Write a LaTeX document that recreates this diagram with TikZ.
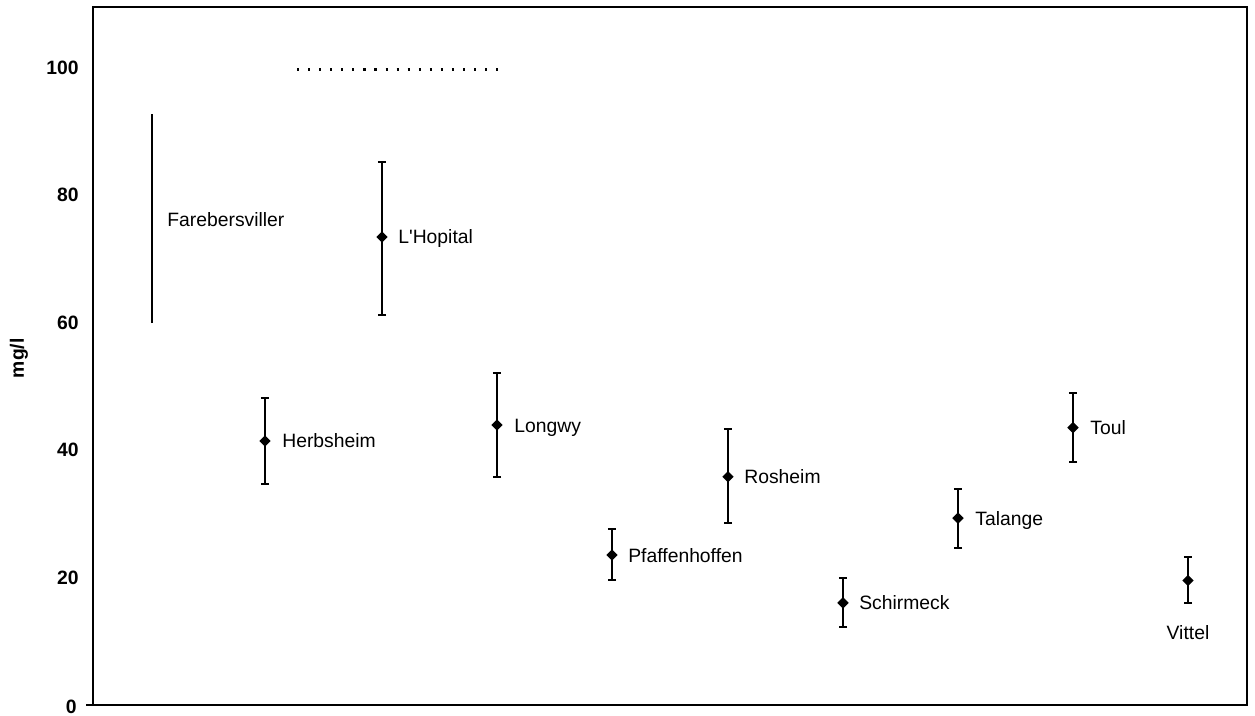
\documentclass[tikz,border=0pt]{standalone}
\usepackage{fontspec}
\setmainfont{Liberation Sans}
\usetikzlibrary{arrows.meta, shapes.geometric}

\begin{document}
\begin{tikzpicture}[x=0.02cm, y=0.1275cm,
        frame/.style={line width=1.2pt},
        errbar/.style={line width=0.7pt, {Bar[width=4.6pt, line width=1.1pt]}-{Bar[width=4.6pt, line width=1.1pt]}},
        dmark/.style={diamond, fill=black, inner sep=0pt, minimum size=6.6pt},
        site/.style={anchor=west, inner sep=0pt, text height=7.9pt, text depth=0pt, font=\fontsize{11}{13}\selectfont},
        tick/.style={anchor=east, inner sep=0pt, text height=7.9pt, text depth=0pt, font=\bfseries\fontsize{11}{13}\selectfont}]
        \useasboundingbox (0, -1.725) rectangle (1255, 110.59);
        % Frame
        \draw [frame] (93, 0) rectangle (1247, 109.5);
        \draw [frame] (86, 0) -- (93, 0);
        \draw [line width=1.3pt, dash pattern=on 1.2pt off 5.1pt] (297, 99.7) -- (498, 99.7);
        % Axis labels
        \node [tick] (t0) at (77, -0.2) {0};
        \node [tick] (t20) at (79, 20) {20};
        \node [tick] (t40) at (79, 40) {40};
        \node [tick] (t60) at (79, 60) {60};
        \node [tick] (t80) at (79, 80) {80};
        \node [tick] (t100) at (79, 100) {100};
        \node [tick, anchor=center, rotate=90] (ylab) at (17, 54.4) {mg/l};
        % Bars
        \draw [line width=1.1pt] (152, 59.9) -- (152, 92.7);
        \draw [errbar] (265, 34.5) -- (265, 48.3);
        \draw [errbar] (382, 61.0) -- (382, 85.3);
        \draw [errbar] (497, 35.6) -- (497, 52.2);
        \draw [errbar] (612, 19.5) -- (612, 27.8);
        \draw [errbar] (728, 28.4) -- (728, 43.5);
        \draw [errbar] (843, 12.1) -- (843, 20.1);
        \draw [errbar] (958, 24.5) -- (958, 34.0);
        \draw [errbar] (1073, 38.0) -- (1073, 49.1);
        \draw [errbar] (1188, 15.8) -- (1188, 23.4);
        % Means
        \node [dmark] (herb) at (265, 41.4) {};
        \node [dmark] (lhop) at (382, 73.4) {};
        \node [dmark] (long) at (497, 43.9) {};
        \node [dmark] (pfaf) at (612, 23.5) {};
        \node [dmark] (rosh) at (728, 35.8) {};
        \node [dmark] (schi) at (843, 16.0) {};
        \node [dmark] (tala) at (958, 29.3) {};
        \node [dmark] (toul) at (1073, 43.5) {};
        \node [dmark] (vitt) at (1188, 19.5) {};
        % Sites
        \node [site] (farelab) at (167, 76.1) {Farebersviller};
        \node [site] (herblab) at (282, 41.4) {Herbsheim};
        \node [site] (lhoplab) at (398, 73.4) {L\textquotesingle Hopital};
        \node [site] (longlab) at (514, 43.9) {Longwy};
        \node [site] (pfaflab) at (628, 23.5) {Pfaffenhoffen};
        \node [site] (roshlab) at (744, 35.8) {Rosheim};
        \node [site] (schilab) at (859, 16.0) {Schirmeck};
        \node [site] (talalab) at (975, 29.3) {Talange};
        \node [site] (toullab) at (1090, 43.5) {Toul};
        \node [site, anchor=center] (vittlab) at (1188, 11.3) {Vittel};
    \end{tikzpicture}
\end{document}
